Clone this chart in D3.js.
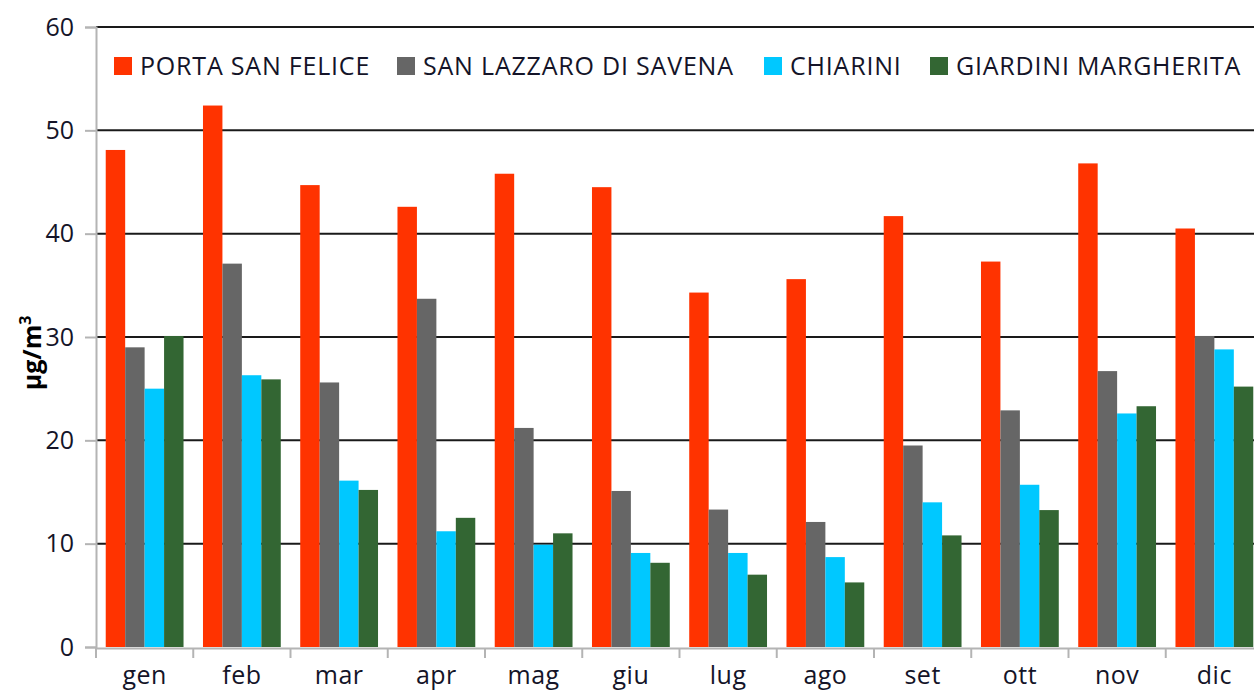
<!DOCTYPE html>
<html>
<head>
<meta charset="utf-8">
<script src="https://cdn.jsdelivr.net/npm/d3@7"></script>
<style>
  body { margin: 0; background: #fff; }
  svg { display: block; font-family: "Open Sans", sans-serif; }
</style>
</head>
<body>
<svg id="chart" width="1254" height="691"></svg>
<script>
const months = ["gen", "feb", "mar", "apr", "mag", "giu", "lug", "ago", "set", "ott", "nov", "dic"];
const stations = ["PORTA SAN FELICE", "SAN LAZZARO DI SAVENA", "CHIARINI", "GIARDINI MARGHERITA"];
const colors = ["#ff3300", "#666666", "#00c8ff", "#336633"];

const portaSanFelice = [48.1, 52.4, 44.7, 42.6, 45.8, 44.5, 34.3, 35.6, 41.7, 37.3, 46.8, 40.5];
const sanLazzaro = [29.0, 37.1, 25.6, 33.7, 21.2, 15.1, 13.3, 12.1, 19.5, 22.9, 26.7, 30.1];
const chiarini = [25.0, 26.3, 16.1, 11.2, 9.9, 9.1, 9.1, 8.7, 14.0, 15.7, 22.6, 28.8];
const giardiniMargherita = [30.1, 25.9, 15.2, 12.5, 11.0, 8.15, 7.0, 6.25, 10.8, 13.25, 23.3, 25.2];

const yTicks = [0, 10, 20, 30, 40, 50, 60];

const series = [portaSanFelice, sanLazzaro, chiarini, giardiniMargherita];
const data = months.map((m, i) => ({
  month: m,
  values: stations.map((s, j) => ({ station: s, value: series[j][i], color: colors[j] }))
}));

const svg = d3.select("#chart");
const plotLeft = 96, plotRight = 1263, plotTop = 27, plotBottom = 647;
const textColor = "#141428";

const x = d3.scaleBand().domain(months).range([plotLeft, plotRight]).paddingInner(0.2).paddingOuter(0.1);
const xSub = d3.scaleBand().domain(stations).range([0, x.bandwidth()]);
const y = d3.scaleLinear().domain([0, 60]).range([plotBottom, plotTop]);

// gridlines
svg.append("g")
  .selectAll("line")
  .data(yTicks.filter(d => d > 0))
  .join("line")
  .attr("x1", plotLeft).attr("x2", 1254)
  .attr("y1", d => y(d)).attr("y2", d => y(d))
  .attr("stroke", "#1a1a1a").attr("stroke-width", 2);

// y axis
const yAxis = svg.append("g")
  .attr("transform", `translate(${plotLeft},0)`)
  .call(d3.axisLeft(y).tickValues(yTicks).tickSize(11).tickPadding(11));
yAxis.select(".domain").attr("stroke", "#b4b4b4").attr("stroke-width", 2);
yAxis.selectAll(".tick line").attr("stroke", "#b4b4b4").attr("stroke-width", 2);
yAxis.selectAll(".tick text")
  .attr("font-size", 25).attr("fill", textColor)
  .attr("font-family", "Open Sans, sans-serif");

// bars
const groups = svg.append("g")
  .selectAll("g")
  .data(data)
  .join("g")
  .attr("transform", d => `translate(${x(d.month)},0)`);

groups.selectAll("rect")
  .data(d => d.values)
  .join("rect")
  .attr("x", d => xSub(d.station))
  .attr("width", xSub.bandwidth())
  .attr("y", d => y(d.value))
  .attr("height", d => y(0) - y(d.value))
  .attr("fill", d => d.color);

// x axis
const xAxis = svg.append("g")
  .attr("transform", `translate(0,${plotBottom + 1})`)
  .call(d3.axisBottom(x).tickSize(0).tickPadding(18));
xAxis.select(".domain").attr("stroke", "#b4b4b4").attr("stroke-width", 2);
xAxis.selectAll(".tick text")
  .attr("font-size", 25).attr("fill", textColor)
  .attr("letter-spacing", 0.5)
  .attr("font-family", "Open Sans, sans-serif");

// category separators
const step = x.step();
svg.append("g")
  .selectAll("line")
  .data(d3.range(months.length + 1))
  .join("line")
  .attr("x1", i => plotLeft + i * step).attr("x2", i => plotLeft + i * step)
  .attr("y1", plotBottom + 1).attr("y2", plotBottom + 11)
  .attr("stroke", "#b4b4b4").attr("stroke-width", 2);

// y title
svg.append("text")
  .attr("transform", "translate(41,353) rotate(-90)")
  .attr("text-anchor", "middle")
  .attr("font-size", 25).attr("font-weight", "bold").attr("fill", "#000")
  .attr("font-family", "Open Sans, sans-serif")
  .html('μg/m<tspan dy="-10" font-size="16">3</tspan>');

// legend
const legendX = [114, 397, 764, 930];
const legend = svg.append("g")
  .selectAll("g")
  .data(stations)
  .join("g")
  .attr("transform", (d, i) => `translate(${legendX[i]},57)`);
legend.append("rect")
  .attr("width", 18).attr("height", 18)
  .attr("fill", (d, i) => colors[i]);
legend.append("text")
  .attr("x", 26).attr("y", 9)
  .attr("dy", "0.36em")
  .attr("font-size", 25).attr("fill", textColor)
  .attr("letter-spacing", 0.8)
  .text(d => d);
</script>
</body>
</html>
